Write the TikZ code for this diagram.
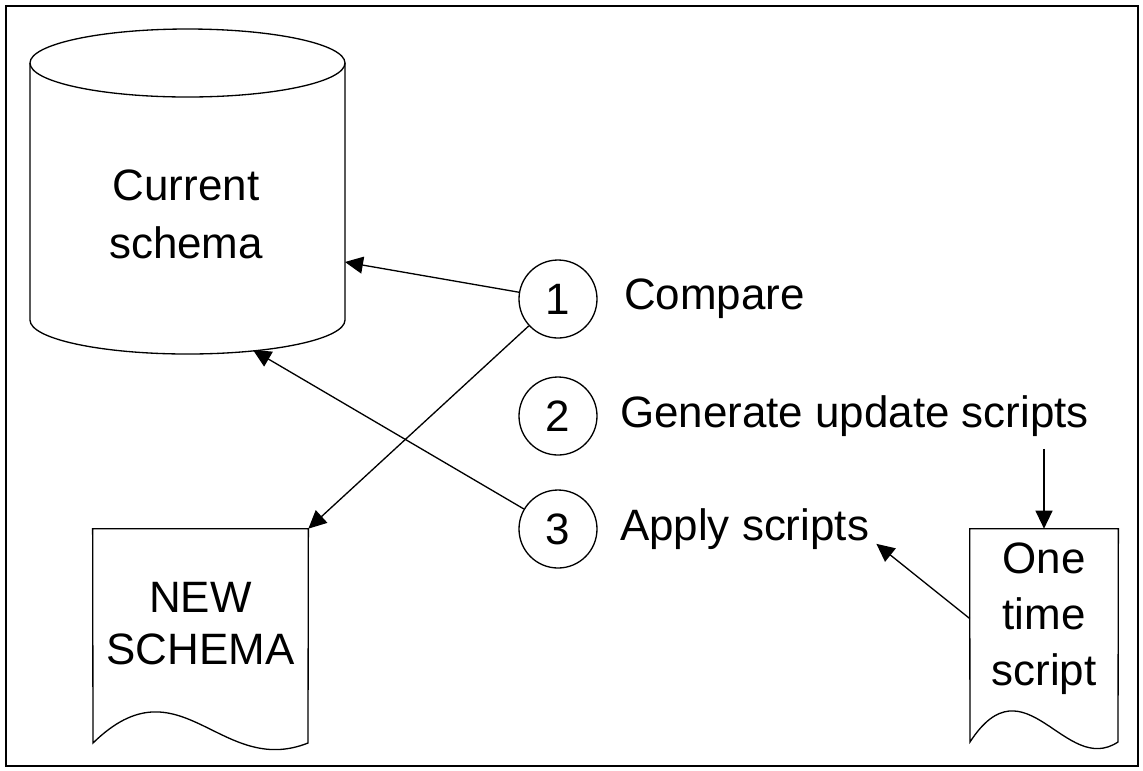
\documentclass[tikz,border=0pt]{standalone}
\usepackage{fontspec}
\setmainfont{Liberation Sans}
\usepackage{tikz}
\usetikzlibrary{arrows.meta, positioning}
\tikzset{
  outline/.style={draw=black, line width=0.75pt},
  stepcircle/.style={circle, draw=black, line width=0.75pt, minimum size=1.56cm, inner sep=0pt},
  steplabel/.style={anchor=west, inner sep=0pt},
  doctext/.style={rectangle, align=center, inner sep=0pt},
  arrow/.style={line width=0.75pt, -{Triangle[length=0.36cm, width=0.34cm]}}
}

\begin{document}
\begin{tikzpicture}[every node/.style={font=\fontsize{25}{33}\selectfont}]
\useasboundingbox (0,0) rectangle (22.86,-15.4);
% outer frame
\draw[line width=1.3pt] (0.12,-0.12) rectangle (22.76,-15.32);

% Current schema (cylinder)
\draw[outline, fill=white] (0.6,-1.26) -- (0.6,-6.4)
  arc[start angle=180, end angle=360, x radius=3.15cm, y radius=0.68cm] -- (6.9,-1.26);
\draw[outline] (3.75,-1.26) ellipse[x radius=3.15cm, y radius=0.68cm];
\node[doctext] (cyl) at (3.72,-4.28) {Current\\schema};
\coordinate (cylright) at (6.9,-5.24);
\coordinate (cylbase) at (5.06,-7.0);

% steps
\node[stepcircle] (c1) at (11.16,-5.98) {1};
\node[stepcircle] (c2) at (11.16,-8.32) {2};
\node[stepcircle] (c3) at (11.16,-10.58) {3};
\node[steplabel, right=0.52cm of c1] (l1) {Compare};
\node[steplabel, right=0.44cm of c2] (l2) {Generate update scripts};
\node[steplabel, right=0.44cm of c3] (l3) {Apply scripts};

% NEW SCHEMA (document)
\node[doctext, minimum width=4.3cm, minimum height=3.8cm,
  font=\fontsize{25}{29.5}\selectfont] (newdoc) at (4.01,-12.48) {NEW\\SCHEMA};
\draw[outline] (newdoc.north west) -- (newdoc.north east) -- (6.16,-14.86)
  .. controls (4.4,-15.56) and (3.6,-13.16) .. (1.86,-14.86) -- cycle;

% One time script (document)
\node[doctext, minimum width=2.96cm, minimum height=3.58cm,
  font=\fontsize{25}{32}\selectfont] (scriptdoc) at (20.88,-12.37) {One\\time\\script};
\draw[outline] (scriptdoc.north west) -- (scriptdoc.north east) -- (22.36,-14.84)
  .. controls (21.3,-15.54) and (20.5,-13.14) .. (19.4,-14.84) -- cycle;

% connectors
\draw[arrow] (c1) -- (cylright);
\draw[arrow] (c1) -- (newdoc.north east);
\draw[arrow] (c3) -- (cylbase);
\draw[arrow, shorten <=0.24cm] (scriptdoc.north |- l2.south) -- (scriptdoc.north);
\draw[arrow] (scriptdoc.west) -- ([xshift=0.14cm, yshift=0.12cm]l3.south east);
\end{tikzpicture}
\end{document}
